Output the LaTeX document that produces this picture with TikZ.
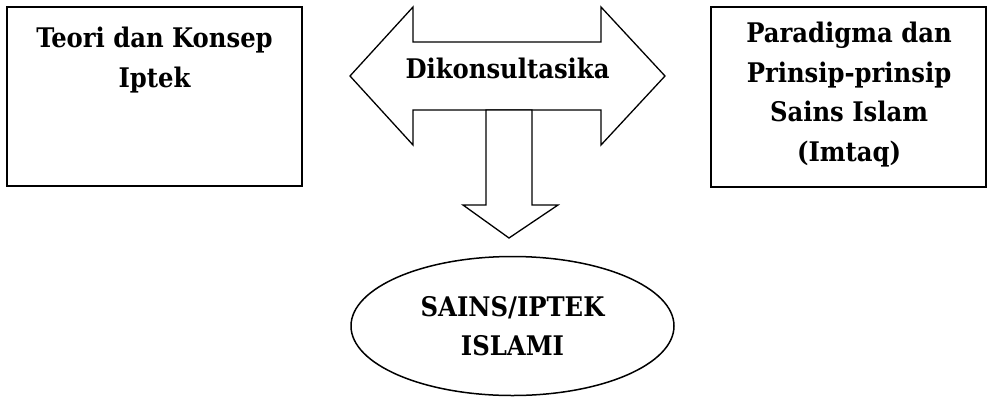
\documentclass[tikz,border=0pt]{standalone}
\usepackage{fontspec}
\setmainfont{DejaVu Serif Condensed}
\usetikzlibrary{shapes.geometric}
\begin{document}
\begin{tikzpicture}[x=1pt,y=-1pt,
  box/.style={draw, line width=1.8pt, inner sep=0pt},
  lbl/.style={align=center, inner sep=0pt, font=\fontsize{27}{39.5}\selectfont\bfseries},
  arrowshape/.style={draw, line width=1.3pt, line join=miter, fill=white}]
\useasboundingbox (0,0) rectangle (987,397);
% boxes
\node[box, minimum width=295pt, minimum height=179pt] (L) at (154.5,96.5) {};
\node[lbl, anchor=north] (Lt) at (154.5,27) {Teori dan Konsep\\Iptek};
\node[box, minimum width=275pt, minimum height=180pt] (R) at (848.5,97) {};
\node[lbl, anchor=north] (Rt) at (849,22) {Paradigma dan\\Prinsip-prinsip\\Sains Islam\\(Imtaq)};
% double arrow
\coordinate (dl) at (350,76);
\coordinate (dr) at (665,76);
\draw[arrowshape] (dl) -- (413,7) -- (413,42) -- (601,42) -- (601,7) -- (dr)
  -- (601,145) -- (601,110) -- (413,110) -- (413,145) -- cycle;
\node[lbl, anchor=base] (D) at (507.5,78) {Dikonsultasika};
% down arrow
\coordinate (dt) at (509,238);
\draw[arrowshape] (486,110) -- (532,110) -- (532,205) -- (558,205) -- (dt)
  -- (463,205) -- (486,205) -- cycle;
% ellipse
\node[ellipse, draw, line width=1.5pt, minimum width=323pt, minimum height=139pt,
  inner sep=0pt, align=center, font=\fontsize{27}{39.5}\selectfont\bfseries] (E) at (512.5,326)
  {SAINS/IPTEK\\ISLAMI};
\end{tikzpicture}
\end{document}
